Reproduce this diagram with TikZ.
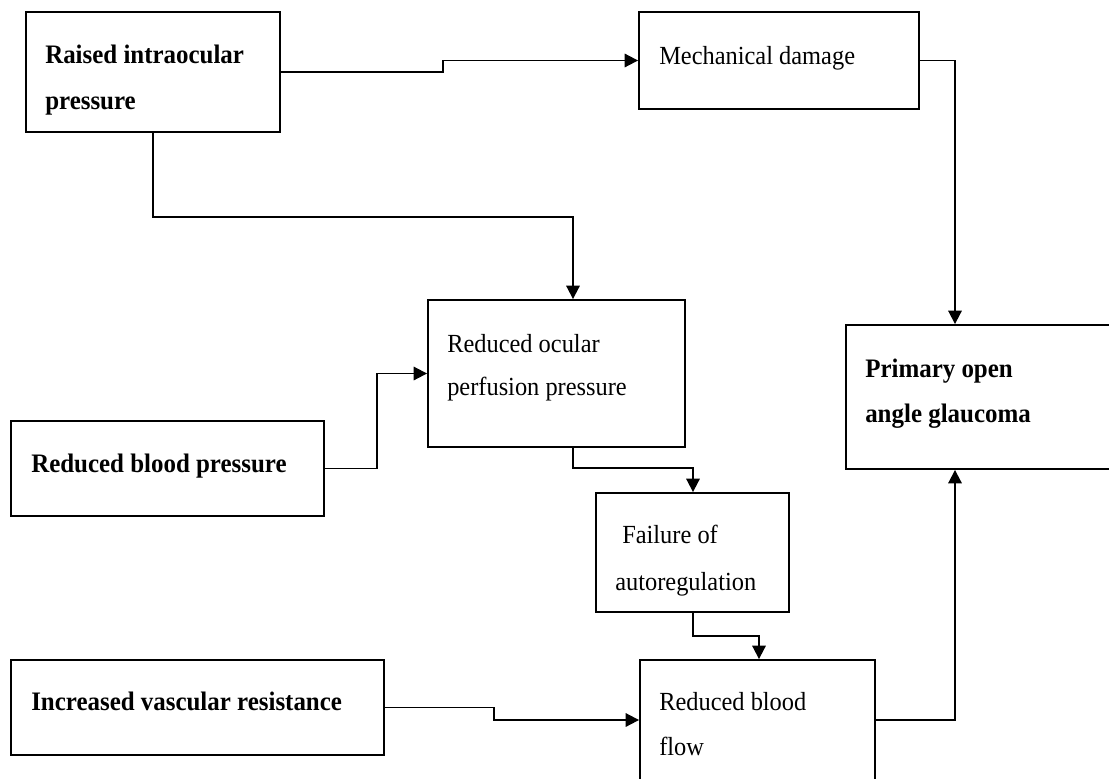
\documentclass[tikz,border=0pt]{standalone}
\usepackage{fontspec}
\setmainfont{Liberation Serif}
\usetikzlibrary{fit,arrows.meta}
\newcommand{\vstr}[1]{\scalebox{1}[1.07]{#1}}
\begin{document}
\begin{tikzpicture}[x=0.75pt,y=-0.75pt,
  box/.style={draw=black,line width=1.4pt,inner sep=0pt},
  txt/.style={anchor=base west,inner sep=0pt,font=\fontsize{18.3}{20}\selectfont},
  btxt/.style={txt,font=\fontsize{18.7}{20}\selectfont\bfseries},
  arr/.style={draw=black,line width=1.4pt,-{Triangle[length=10pt,width=10pt]}}]
\useasboundingbox (0,0) rectangle (1109,778);
% boxes
\node[box,fit={(26,12) (280,132)}] (raised) {};
\node[box,fit={(639,12) (919,109)}] (mech) {};
\node[box,fit={(428,300) (685,447)}] (ocular) {};
\node[box,fit={(846,325) (1120,469)}] (poag) {};
\node[box,fit={(11,421) (324,516)}] (rbp) {};
\node[box,fit={(596,493) (789,612)}] (fail) {};
\node[box,fit={(11,660) (384,755)}] (ivr) {};
\node[box,fit={(640,660) (875,780)}] (rbf) {};
% texts
\node[btxt] (t1a) at (45,63) {\vstr{Raised intraocular}};
\node[btxt] (t1b) at (45,109) {\vstr{pressure}};
\node[txt] (t2) at (659,64) {\vstr{Mechanical damage}};
\node[txt] (t3a) at (447,352) {\vstr{Reduced ocular}};
\node[txt] (t3b) at (447,395) {\vstr{perfusion pressure}};
\node[btxt] (t4a) at (865,377) {\vstr{Primary open}};
\node[btxt] (t4b) at (865,422) {\vstr{angle glaucoma}};
\node[btxt] (t5) at (31,472) {\vstr{Reduced blood pressure}};
\node[txt] (t6a) at (622,543) {\vstr{Failure of}};
\node[txt] (t6b) at (615,590) {\vstr{autoregulation}};
\node[btxt] (t7) at (31,710) {\vstr{Increased vascular resistance}};
\node[txt] (t8a) at (659,710) {\vstr{Reduced blood}};
\node[txt] (t8b) at (659,755) {\vstr{flow}};
% connectors
\draw[arr] (raised.east) -- (raised.east -| 443,0) |- (mech.west);
\draw[arr] (raised.south -| 153,0) -- (153,217) -- (573,217) -- (ocular.north -| 573,0);
\draw[arr] (mech.east) -| (poag.north -| 955,0);
\draw[arr] (rbp.east) -- (rbp.east -| 377,0) |- (ocular.west);
\draw[arr] (ocular.south -| 573,0) -- (573,468) -- (693,468) -- (fail.north -| 693,0);
\draw[arr] (fail.south -| 693,0) -- (693,636) -- (759,636) -- (rbf.north -| 759,0);
\draw[arr] (ivr.east) -- (ivr.east -| 494,0) |- (rbf.west);
\draw[arr] (rbf.east) -| (poag.south -| 955,0);
\end{tikzpicture}
\end{document}
